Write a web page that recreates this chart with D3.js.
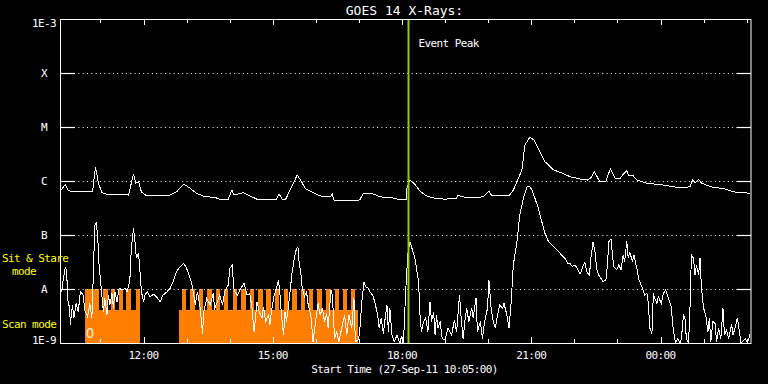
<!DOCTYPE html>
<html><head><meta charset="utf-8">
<script src="https://cdn.jsdelivr.net/npm/d3@7"></script>
<style>
html,body{margin:0;padding:0;background:#000;overflow:hidden}
text{font-family:"DejaVu Sans Mono",monospace;}
</style></head><body>
<svg id="chart" width="768" height="384"></svg>
<script>
// ---------- data ----------
const startTime = new Date(2011, 8, 27, 10, 5);
const endTime = new Date(2011, 8, 28, 2, 6);
const eventPeakMinute = 484; // minutes after start
const yTickValues = [1e-3, 1e-4, 1e-5, 1e-6, 1e-7, 1e-8, 1e-9];
const yTickLabels = ["1E-3", "X", "M", "C", "B", "A", "1E-9"];
const xTickLabels = ["12:00", "15:00", "18:00", "21:00", "00:00"];

// [minutes after start, flux W/m^2] 1-8 Angstrom
const longChannel = [[0,6.8e-7],[6,8.7e-7],[10,6.8e-7],[15,6.3e-7],[44,6.3e-7],[48,1.84e-6],[52,9.2e-7],[57,6.1e-7],[64,5.7e-7],[94,5.5e-7],[101,1.35e-6],[104,9.1e-7],[108,9.7e-7],[112,6.3e-7],[119,5.3e-7],[149,5.3e-7],[161,6.3e-7],[171,8.8e-7],[180,7.3e-7],[189,5.9e-7],[201,5.1e-7],[214,5.0e-7],[221,4.6e-7],[233,4.6e-7],[238,6.8e-7],[240,5.7e-7],[245,5.7e-7],[254,6.1e-7],[263,5.3e-7],[273,4.6e-7],[286,4.45e-7],[299,4.45e-7],[304,5.7e-7],[308,4.6e-7],[313,4.6e-7],[319,6.8e-7],[329,1.29e-6],[335,9.7e-7],[340,7.3e-7],[351,6.1e-7],[361,5.3e-7],[375,5.1e-7],[378,5.7e-7],[380,4.45e-7],[389,4.3e-7],[416,4.45e-7],[421,5.9e-7],[433,5.9e-7],[444,5.1e-7],[465,4.8e-7],[471,4.45e-7],[481,4.45e-7],[482,7.8e-7],[486,1.04e-6],[493,8.7e-7],[500,6.5e-7],[507,5.5e-7],[516,4.9e-7],[535,4.6e-7],[551,4.8e-7],[553,5.5e-7],[558,5.1e-7],[574,4.9e-7],[588,5.1e-7],[596,6.5e-7],[600,5.3e-7],[625,5.5e-7],[630,6.8e-7],[635,9.7e-7],[642,1.6e-6],[646,4.64e-6],[653,6.45e-6],[659,5.74e-6],[667,3.48e-6],[674,2.28e-6],[686,1.6e-6],[697,1.42e-6],[709,1.2e-6],[723,1.09e-6],[734,1.04e-6],[738,1.15e-6],[743,1.49e-6],[746,1.24e-6],[750,1.0e-6],[759,1.0e-6],[765,1.67e-6],[769,1.35e-6],[772,1.09e-6],[779,1.12e-6],[782,1.29e-6],[788,1.55e-6],[791,1.24e-6],[797,1.24e-6],[802,1.04e-6],[816,9.1e-7],[839,8.4e-7],[853,7.8e-7],[862,7.5e-7],[876,7.8e-7],[880,1.07e-6],[883,9.3e-7],[888,1.07e-6],[892,9.1e-7],[908,7.6e-7],[922,7.3e-7],[929,6.8e-7],[936,6.3e-7],[950,6.1e-7],[960,5.9e-7]];

// [minutes after start, flux W/m^2] 0.5-4 Angstrom
const shortChannel = [[1,8.9e-9],[3,1.47e-8],[6,2.5e-8],[8,2.25e-8],[9,6.7e-9],[12,4.4e-9],[13,2.2e-9],[16,5.05e-9],[18,2.9e-9],[21,5.4e-9],[24,3.8e-9],[27,8.9e-9],[31,7.7e-9],[33,4.1e-9],[37,3.1e-9],[40,5.4e-9],[43,2.9e-9],[45,1.8e-8],[47,1.53e-7],[49,1.65e-7],[51,1.0e-7],[53,2.8e-8],[56,1.03e-8],[59,3.8e-9],[61,6.7e-9],[64,3.3e-9],[66,7.7e-9],[68,5.05e-9],[71,8.3e-9],[73,4.4e-9],[75,8.9e-9],[78,5.8e-9],[81,1.03e-8],[85,9.6e-9],[89,1.03e-8],[92,8.9e-9],[94,1.1e-8],[96,1.58e-8],[98,5.7e-8],[101,1.33e-7],[103,7.5e-8],[105,3.7e-8],[108,4.6e-8],[110,2.1e-8],[112,8.9e-9],[115,5.8e-9],[117,7.7e-9],[120,8.9e-9],[124,7.2e-9],[129,8.0e-9],[133,7.2e-9],[138,5.8e-9],[142,7.7e-9],[147,8.7e-9],[152,1.03e-8],[156,1.37e-8],[161,2.1e-8],[166,2.6e-8],[171,3.0e-8],[175,2.4e-8],[180,1.58e-8],[183,1.1e-8],[187,5.05e-9],[190,8.9e-9],[194,4.4e-9],[197,1.5e-9],[199,3.8e-9],[203,6.7e-9],[208,5.05e-9],[212,8.3e-9],[214,4.4e-9],[218,5.8e-9],[221,7.7e-9],[225,5.05e-9],[228,8.9e-9],[233,1.19e-8],[235,2.4e-8],[239,2.8e-8],[240,1.1e-8],[242,8.9e-9],[246,7.7e-9],[249,9.6e-9],[255,1.28e-8],[259,7.7e-9],[263,8.3e-9],[266,4.4e-9],[269,1.6e-9],[273,5.8e-9],[276,3.8e-9],[280,2.9e-9],[282,4.7e-9],[285,2.5e-9],[289,3.3e-9],[291,2.2e-9],[293,3.8e-9],[297,7.7e-9],[300,1.03e-8],[303,1.47e-8],[305,7.7e-9],[307,3.3e-9],[310,1.4e-9],[312,3.8e-9],[314,2.5e-9],[317,5.05e-9],[320,1.19e-8],[322,2.1e-8],[325,3.7e-8],[328,5.7e-8],[330,5.9e-8],[331,3.7e-8],[334,1.95e-8],[336,1.03e-8],[339,7.2e-9],[342,8.9e-9],[344,5.4e-9],[348,3.3e-9],[351,1.05e-9],[354,2.2e-9],[358,5.4e-9],[361,3.3e-9],[364,4.4e-9],[367,2.5e-9],[370,3.55e-9],[372,1.9e-9],[376,9.6e-9],[378,7.7e-9],[381,1.2e-9],[384,1.6e-9],[387,1.05e-9],[391,1.9e-9],[395,3.3e-9],[398,1.4e-9],[401,3.3e-9],[405,1.9e-9],[408,6.7e-9],[410,1.05e-9],[414,1.14e-9],[416,1.6e-9],[419,5.8e-9],[422,1.37e-8],[424,1.1e-8],[428,1.03e-8],[430,8.9e-9],[434,7.7e-9],[437,5.8e-9],[441,3.3e-9],[443,1.9e-9],[446,2.9e-9],[449,1.5e-9],[452,3.3e-9],[454,5.05e-9],[456,1.6e-9],[458,4.4e-9],[461,1.4e-9],[464,1.05e-9],[468,1.4e-9],[472,8e-10],[474,1.3e-9],[477,8e-10],[480,8.9e-9],[483,4.3e-8],[486,7.5e-8],[493,3.7e-8],[498,1.37e-8],[500,3.3e-9],[502,1.6e-9],[505,2.5e-9],[508,2.9e-9],[511,1.6e-9],[514,5.8e-9],[516,2.5e-9],[519,3.8e-9],[521,1.4e-9],[523,3.3e-9],[525,1.9e-9],[528,2.5e-9],[531,1.2e-9],[535,1.14e-9],[539,1.9e-9],[544,1.4e-9],[548,2.7e-9],[551,1.6e-9],[555,7.7e-9],[557,3.3e-9],[560,1.2e-9],[563,2.9e-9],[565,4.4e-9],[568,2.5e-9],[572,4.4e-9],[574,2.9e-9],[578,6.7e-9],[580,1.6e-9],[584,2.5e-9],[587,1.2e-9],[590,2.5e-9],[594,4.4e-9],[596,1.47e-8],[599,4.4e-9],[602,2.5e-9],[605,1.9e-9],[608,3.3e-9],[611,5.05e-9],[615,4.4e-9],[617,5.4e-9],[621,3.3e-9],[624,1.9e-9],[627,5.8e-9],[630,2.8e-8],[635,7.5e-8],[639,2.35e-7],[644,4.8e-7],[649,7.85e-7],[652,8.1e-7],[656,6.8e-7],[660,4.8e-7],[665,3.1e-7],[669,1.9e-7],[674,1.07e-7],[679,7.5e-8],[686,6.1e-8],[693,4.9e-8],[697,4.3e-8],[702,3.7e-8],[706,2.9e-8],[709,3.0e-8],[712,2.6e-8],[716,2.8e-8],[720,2.25e-8],[723,1.9e-8],[726,2.4e-8],[729,3.1e-8],[730,3.0e-8],[732,2.1e-8],[736,1.8e-8],[738,3.7e-8],[741,7.5e-8],[744,4.6e-8],[746,2.4e-8],[749,1.8e-8],[752,1.58e-8],[755,1.37e-8],[759,1.47e-8],[761,2.8e-8],[763,7.5e-8],[766,8.4e-8],[768,4.3e-8],[770,2.6e-8],[774,2.25e-8],[777,2.8e-8],[780,2.25e-8],[783,4.3e-8],[785,3.2e-8],[788,7.7e-8],[790,3.7e-8],[792,4.9e-8],[796,3.2e-8],[798,4.3e-8],[802,2.4e-8],[805,1.47e-8],[809,1.1e-8],[813,7.7e-9],[816,8.3e-9],[818,5.4e-9],[820,1.9e-9],[823,1.5e-9],[825,8.3e-9],[827,6.7e-9],[830,5.4e-9],[832,7.2e-9],[836,5.4e-9],[839,8.3e-9],[842,9.6e-9],[846,6.7e-9],[850,4.7e-9],[852,2.2e-9],[854,1.4e-9],[856,8e-10],[859,1.2e-9],[862,8e-10],[864,1.2e-9],[867,3.3e-9],[869,2.9e-9],[871,1.2e-9],[874,8e-10],[876,4.4e-9],[878,4.3e-8],[881,3.7e-8],[883,1.8e-8],[885,2.8e-8],[888,1.8e-8],[890,3.7e-8],[892,1.03e-8],[895,4.4e-9],[898,3.3e-9],[901,1.6e-9],[903,2.9e-9],[905,1.05e-9],[908,2.5e-9],[911,2.3e-9],[913,1.05e-9],[916,1.9e-9],[919,1.2e-9],[922,4.4e-9],[924,1.4e-9],[927,1.75e-9],[930,1.2e-9],[934,2.2e-9],[936,1.4e-9],[940,2.2e-9],[942,2.95e-9],[945,1.6e-9],[947,8e-10],[953,1.2e-9],[956,8e-10],[960,1.5e-9]];

// SXI mode: [minutes after start, state] 0 = none, 1 = scan, 2 = sit & stare
const modeSteps = [[0,0],[33,2],[53,1],[58,2],[65,1],[69,2],[75,1],[81,2],[86,1],[91,2],[98,1],[104,2],[110,0],
 [164,1],[168,2],[174,1],[180,2],[186,1],[192,2],[198,1],[204,2],[210,1],[216,2],[222,1],[227,2],[233,1],[239,2],[245,1],[251,2],[257,1],[263,2],[269,1],[275,2],[281,1],[286,2],[292,1],[298,2],[304,1],[310,2],[316,1],[322,2],[328,1],[334,2],[340,1],[345,2],[351,1],[357,2],[363,1],[369,2],[375,1],[381,2],[387,1],[393,2],[399,1],[404,2],[410,1],[414,0],[961,0]];
const modeFlux = [1e-9, 4e-9, 1e-8]; // plotted level of each state

// ---------- layout ----------
const W = 768, H = 384;
const L = 61, R = 751, T = 19, B = 343;
const svg = d3.select("#chart");
svg.append("rect").attr("width", W).attr("height", H).attr("fill", "#000");

const x = d3.scaleTime().domain([startTime, endTime]).range([L, R]);
const y = d3.scaleLog().domain([1e-9, 1e-3]).range([B, T]).clamp(true);
const t = m => new Date(startTime.getTime() + m * 60000);

// mode indicator
const modeArea = d3.area()
  .x(d => x(t(d[0])))
  .y0(B)
  .y1(d => y(modeFlux[d[1]]))
  .curve(d3.curveStepAfter);
svg.append("path").datum(modeSteps).attr("d", modeArea).attr("fill", "#ff8000")
  .attr("shape-rendering", "crispEdges");

// gridlines
const grid = yTickValues.slice(1, -1);
svg.append("g").selectAll("line").data(grid).join("line")
  .attr("x1", L).attr("x2", R)
  .attr("y1", d => Math.round(y(d)) + 0.5).attr("y2", d => Math.round(y(d)) + 0.5)
  .attr("stroke", "#fff").attr("stroke-width", 1)
  .attr("stroke-dasharray", "1,3.33");

// data lines
const line = d3.line().x(d => x(t(d[0]))).y(d => y(d[1]));
svg.append("path").datum(shortChannel).attr("d", line)
  .attr("fill", "none").attr("stroke", "#fff").attr("stroke-width", 1)
  .attr("shape-rendering", "crispEdges");
svg.append("path").datum(longChannel).attr("d", line)
  .attr("fill", "none").attr("stroke", "#fff").attr("stroke-width", 1)
  .attr("shape-rendering", "crispEdges");

// event peak
const ex = x(t(eventPeakMinute));
svg.append("line").attr("x1", ex).attr("x2", ex).attr("y1", T).attr("y2", B)
  .attr("stroke", "#99cc00").attr("stroke-width", 2);
svg.append("text").attr("x", ex + 10).attr("y", 47)
  .attr("fill", "#fff").attr("font-size", 11).attr("letter-spacing", -0.6)
  .text("Event Peak");

// frame
svg.append("rect").attr("x", L - 0.5).attr("y", T + 0.5).attr("width", R - L + 0.5).attr("height", B - T)
  .attr("fill", "none").attr("stroke", "#fff").attr("stroke-width", 1);

// y ticks (left + right)
const yg = svg.append("g");
grid.forEach(v => {
  const yy = Math.round(y(v)) + 0.5;
  yg.append("line").attr("x1", L).attr("x2", L + 14).attr("y1", yy).attr("y2", yy).attr("stroke", "#fff").attr("stroke-width", 1.2);
  yg.append("line").attr("x1", R - 14).attr("x2", R).attr("y1", yy).attr("y2", yy).attr("stroke", "#fff").attr("stroke-width", 1.2);
});
yTickValues.forEach((v, i) => {
  const yy = Math.min(Math.max(y(v) + 4, T + 8), B + 1);
  yg.append("text").attr("x", 44).attr("y", yy).attr("text-anchor", "middle")
    .attr("fill", "#fff").attr("font-size", 11).attr("letter-spacing", -0.6)
    .text(yTickLabels[i]);
});

// x ticks top/bottom
const minorTicks = x.ticks(d3.timeHour.every(1));
const majorTicks = x.ticks(d3.timeHour.every(3));
const xg = svg.append("g");
minorTicks.forEach(d => {
  const xx = Math.round(x(d)) + 0.5;
  const isMajor = d.getHours() % 3 === 0;
  const len = isMajor ? 6 : 4;
  xg.append("line").attr("x1", xx).attr("x2", xx).attr("y1", T).attr("y2", T + len).attr("stroke", "#fff");
  xg.append("line").attr("x1", xx).attr("x2", xx).attr("y1", B).attr("y2", B - len).attr("stroke", "#fff");
});
majorTicks.forEach((d, i) => {
  xg.append("text").attr("x", x(d)).attr("y", 358.5).attr("text-anchor", "middle")
    .attr("fill", "#fff").attr("font-size", 11).attr("letter-spacing", -0.6)
    .text(xTickLabels[i]);
});
svg.append("text").attr("x", 404.5).attr("y", 372.5).attr("text-anchor", "middle")
  .attr("fill", "#fff").attr("font-size", 11).attr("letter-spacing", -0.6)
  .text("Start Time (27-Sep-11 10:05:00)");

// title
svg.append("text").attr("x", 404.5).attr("y", 14.5).attr("text-anchor", "middle")
  .attr("fill", "#fff").attr("font-size", 13)
  .text("GOES 14 X-Rays:");

// mode labels
const ylab = svg.append("g").attr("fill", "#ffff00").attr("font-size", 11).attr("letter-spacing", -0.6);
ylab.append("text").attr("x", 2).attr("y", 262).text("Sit & Stare");
ylab.append("text").attr("x", 24).attr("y", 275).attr("text-anchor", "middle").text("mode");
ylab.append("text").attr("x", 2).attr("y", 327.5).text("Scan mode");
svg.append("text").attr("x", 90).attr("y", 338).attr("text-anchor", "middle")
  .attr("fill", "#ffe8d0").attr("font-size", 14).text("O");
</script>
</body></html>
